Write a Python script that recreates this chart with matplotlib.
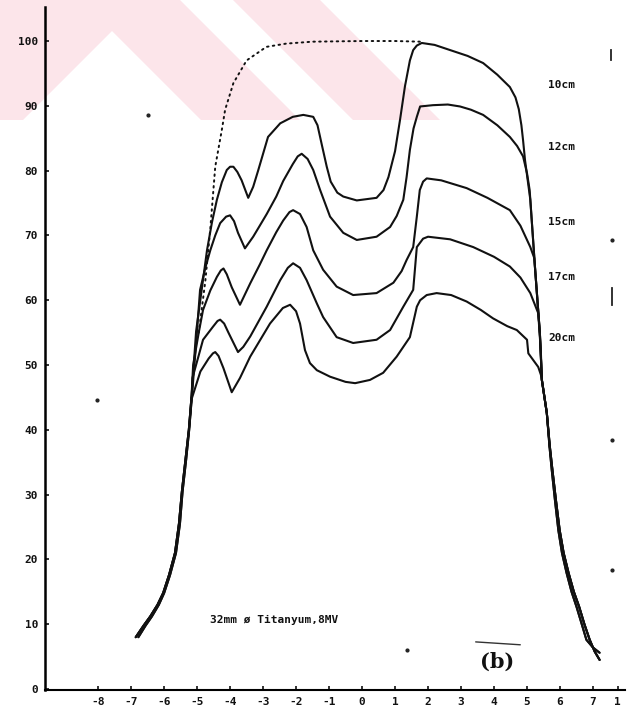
import matplotlib
matplotlib.use("Agg")
import matplotlib.pyplot as plt
from matplotlib.patches import Polygon

# ---------------- data ----------------
x_ticks = [-8, -7, -6, -5, -4, -3, -2, -1, 0, 1, 2, 3, 4, 5, 6, 7, 7.75]
x_ticklabels = ["-8", "-7", "-6", "-5", "-4", "-3", "-2", "-1", "0", "1", "2", "3", "4", "5", "6", "7", "1"]
y_ticks = [0, 10, 20, 30, 40, 50, 60, 70, 80, 90, 100]
y_ticklabels = ["0", "10", "20", "30", "40", "50", "60", "70", "80", "90", "100"]

depth_labels = ["10cm", "12cm", "15cm", "17cm", "20cm"]
label_y = [93.2, 83.6, 72.1, 63.6, 54.2]

# shared penumbra edges (two slightly different traces)
left_x_a = [-6.86, -6.62, -6.42, -6.2, -6.03, -5.85, -5.67, -5.55, -5.46, -5.35, -5.25, -5.17]
left_x_b = [-6.78, -6.56, -6.37, -6.16, -6.0, -5.82, -5.64, -5.52, -5.44, -5.33, -5.24, -5.16]
left_y = [8.0, 9.8, 11.2, 13.0, 14.8, 17.6, 21.0, 25.5, 30.5, 35.5, 40.0, 45.0]
right_x_a = [5.45, 5.6, 5.68, 5.75, 5.85, 5.95, 6.06, 6.2, 6.35, 6.5, 6.66, 6.8, 7.0, 7.2]
right_y_a = [47.7, 42.6, 37.5, 33.8, 29.0, 24.5, 21.0, 17.9, 15.0, 12.7, 10.0, 7.6, 6.4, 5.6]
right_x_b = [5.45, 5.6, 5.69, 5.77, 5.88, 5.99, 6.11, 6.26, 6.42, 6.58, 6.74, 6.9, 7.05, 7.2]
right_y_b = [47.7, 42.6, 37.5, 33.8, 29.0, 24.5, 21.0, 17.9, 15.0, 12.7, 10.0, 7.6, 5.8, 4.5]

# central parts of each depth profile
c10_x = [-5.03, -4.85, -4.7, -4.55, -4.4, -4.25, -4.1, -4.0, -3.9, -3.78, -3.65, -3.45, -3.3, -3.15,
         -2.85, -2.48, -2.1, -1.78, -1.48, -1.35, -1.22, -1.07, -0.95, -0.75, -0.57, -0.16, 0.44, 0.65,
         0.8, 1.0, 1.15, 1.3, 1.45, 1.55, 1.66, 1.81, 2.2, 2.67, 3.2, 3.67, 4.1, 4.48, 4.65, 4.75,
         4.83, 4.88, 4.94, 5.1, 5.24, 5.39]
c10_y = [55.2, 62.0, 67.7, 72.0, 75.5, 78.2, 80.1, 80.6, 80.6, 79.8, 78.5, 75.8, 77.5, 80.0,
         85.2, 87.3, 88.3, 88.6, 88.3, 87.0, 84.0, 80.6, 78.3, 76.6, 76.0, 75.4, 75.8, 77.0,
         79.0, 83.0, 87.8, 93.0, 97.0, 98.6, 99.3, 99.7, 99.4, 98.6, 97.7, 96.6, 94.8, 92.9, 91.3, 89.5,
         87.0, 84.7, 81.6, 75.5, 65.2, 54.9]
c12_x = [-5.05, -4.91, -4.75, -4.6, -4.45, -4.3, -4.12, -4.0, -3.88, -3.76, -3.55, -3.3, -3.1, -2.89,
         -2.6, -2.39, -2.1, -1.95, -1.83, -1.65, -1.48, -1.27, -0.97, -0.57, -0.16, 0.44, 0.85, 1.05,
         1.25, 1.35, 1.45, 1.56, 1.66, 1.76, 2.15, 2.6, 2.97, 3.3, 3.67, 4.1, 4.48, 4.7, 4.88, 5.0,
         5.08, 5.24, 5.39]
c12_y = [52.0, 61.6, 65.0, 67.7, 70.0, 71.9, 72.9, 73.1, 72.2, 70.4, 68.0, 69.8, 71.5, 73.3,
         76.0, 78.4, 81.0, 82.2, 82.6, 81.8, 80.1, 77.0, 72.9, 70.4, 69.3, 69.8, 71.3, 73.0,
         75.5, 79.0, 83.2, 86.5, 88.3, 89.9, 90.1, 90.2, 89.9, 89.4, 88.6, 87.0, 85.2, 83.8, 82.2, 79.6,
         77.0, 65.2, 54.9]
c15_x = [-5.12, -4.95, -4.82, -4.6, -4.4, -4.28, -4.2, -4.1, -3.95, -3.7, -3.39, -3.1, -2.89, -2.6,
         -2.39, -2.2, -2.09, -1.88, -1.68, -1.48, -1.18, -0.77, -0.27, 0.44, 0.95, 1.2, 1.35,
         1.55, 1.66, 1.75, 1.85, 1.96, 2.4, 3.17, 3.8, 4.48, 4.8, 5.1, 5.22, 5.39]
c15_y = [50.0, 55.0, 58.5, 61.5, 63.6, 64.6, 64.9, 64.0, 62.0, 59.3, 62.6, 65.5, 67.7, 70.5,
         72.3, 73.6, 73.9, 73.3, 71.3, 67.7, 64.7, 62.1, 60.8, 61.1, 62.7, 64.5, 66.2,
         68.2, 72.9, 77.0, 78.3, 78.8, 78.5, 77.3, 75.8, 73.9, 71.5, 68.2, 66.5, 54.9]
c17_x = [-5.14, -4.95, -4.82, -4.52, -4.38, -4.3, -4.18, -4.05, -3.76, -3.6, -3.39, -2.89, -2.48, -2.25,
         -2.09, -1.88, -1.68, -1.37, -1.18, -0.77, -0.27, 0.44, 0.85, 1.25, 1.55, 1.66, 1.85,
         2.0, 2.67, 3.37, 4.0, 4.48, 4.8, 5.1, 5.34, 5.42]
c17_y = [48.0, 51.5, 53.9, 55.9, 56.8, 57.0, 56.4, 55.0, 52.0, 52.8, 54.4, 59.0, 63.1, 65.0,
         65.7, 65.0, 63.1, 59.5, 57.4, 54.3, 53.4, 53.9, 55.4, 59.0, 61.6, 68.2, 69.5,
         69.8, 69.4, 68.2, 66.7, 65.2, 63.5, 61.1, 58.0, 52.0]
c20_x = [-5.15, -4.9, -4.65, -4.52, -4.45, -4.35, -4.2, -3.95, -3.7, -3.39, -2.79, -2.4, -2.18, -2.0,
         -1.88, -1.73, -1.58, -1.37, -0.97, -0.5, -0.21, 0.24, 0.64, 1.05, 1.45, 1.66, 1.76,
         1.96, 2.26, 2.7, 3.17, 3.6, 3.97, 4.4, 4.69, 5.0, 5.04, 5.34, 5.42]
c20_y = [45.0, 49.0, 51.0, 51.8, 52.0, 51.4, 49.5, 45.8, 48.0, 51.3, 56.4, 58.8, 59.3, 58.3,
         56.4, 52.3, 50.3, 49.2, 48.2, 47.4, 47.2, 47.7, 48.8, 51.3, 54.3, 59.0, 60.0,
         60.8, 61.1, 60.8, 59.8, 58.5, 57.2, 56.0, 55.4, 53.9, 51.8, 49.7, 48.5]

# dotted reference profile (open field)
dot_x = [-4.95, -4.75, -4.6, -4.45, -4.25, -4.15, -3.9, -3.5, -2.9, -2.3, -1.5, 0.0, 1.0, 1.76]
dot_y = [55.0, 63.0, 71.0, 80.6, 86.3, 89.4, 93.5, 97.0, 99.1, 99.6, 99.9, 100.0, 100.0, 99.9]

annotation_text = "32mm \u00f8 Titanyum,8MV"
panel_label = "(b)"

# ---------------- figure ----------------
W, H = 643, 709
fig = plt.figure(figsize=(W / 100, H / 100), dpi=100)
fig.patch.set_facecolor("white")

# faint pink watermark (background decoration)
pink = "#fce5ea"
def fpoly(pts):
    return [(px / W, 1 - py / H) for px, py in pts]
fig.add_artist(Polygon(fpoly([(0, 0), (180, 0), (300, 120), (201, 120), (112, 31), (23, 120), (0, 120)]),
                       closed=True, facecolor=pink, edgecolor="none", transform=fig.transFigure, zorder=-5))
fig.add_artist(Polygon(fpoly([(233, 0), (320, 0), (440, 120), (353, 120)]),
                       closed=True, facecolor=pink, edgecolor="none", transform=fig.transFigure, zorder=-5))

ax = fig.add_axes([45 / W, (H - 690) / H, (625 - 45) / W, (690 - 7) / H])
ax.patch.set_visible(False)
ax.set_xlim(-9.61, 7.97)
ax.set_ylim(-0.15, 105.25)

lw = 1.5
col = "#111111"
profiles = [
    (left_x_a, left_y, c10_x, c10_y, right_x_a, right_y_a),
    (left_x_b, left_y, c12_x, c12_y, right_x_a, right_y_a),
    (left_x_a, left_y, c15_x, c15_y, right_x_b, right_y_b),
    (left_x_b, left_y, c17_x, c17_y, right_x_b, right_y_b),
    (left_x_a, left_y, c20_x, c20_y, right_x_b, right_y_b),
]
for lx, ly, cx, cy, rx, ry in profiles:
    xs = list(lx) + list(cx) + list(rx)
    ys = list(ly) + list(cy) + list(ry)
    ax.plot(xs, ys, color=col, lw=lw, solid_joinstyle="round", solid_capstyle="round")

ax.plot(dot_x, dot_y, color=col, lw=1.4, linestyle=(0, (0.8, 2.2)), dash_capstyle="round")

mono = dict(family="DejaVu Sans Mono", weight="bold")
for lab, yy in zip(depth_labels, label_y):
    ax.text(5.64, yy, lab, fontsize=8, va="center", ha="left", color=col, **mono)

ax.text(-4.6, 10.6, annotation_text, fontsize=8, va="center", ha="left", color=col, **mono)
ax.text(4.09, 4.2, panel_label, fontsize=15, va="center", ha="center", color="#111111",
        family="DejaVu Serif", weight="bold")
ax.annotate("", xy=(4.88, 6.8), xytext=(3.36, 7.3),
            arrowprops=dict(arrowstyle="-", lw=1.0, color="#333333"))

# axes styling
for s in ["top", "right"]:
    ax.spines[s].set_visible(False)
ax.spines["left"].set_linewidth(1.8)
ax.spines["bottom"].set_linewidth(1.5)
ax.set_xticks(x_ticks)
ax.set_xticklabels(x_ticklabels)
ax.set_yticks(y_ticks)
ax.set_yticklabels(y_ticklabels)
ax.tick_params(axis="both", direction="in", length=3, width=1.2, colors=col, labelsize=8)
ax.tick_params(axis="x", pad=5)
ax.tick_params(axis="y", pad=5)
for t in ax.get_xticklabels() + ax.get_yticklabels():
    t.set_fontfamily("DejaVu Sans Mono")
    t.set_fontweight("bold")

# small scan specks
for px, py, ms in [(148, 115, 2), (97, 400, 2), (407, 650, 2), (612, 240, 2), (612, 440, 2), (612, 570, 2)]:
    fig.add_artist(plt.Line2D([px / W], [1 - py / H], marker="o", ms=ms, color="#222222",
                              linestyle="none", transform=fig.transFigure))
for px, y0, y1 in [(611, 50, 60), (612, 288, 305)]:
    fig.add_artist(plt.Line2D([px / W, px / W], [1 - y0 / H, 1 - y1 / H], lw=1.3, color="#222222",
                              transform=fig.transFigure))

fig.savefig("out.png", dpi=100)
